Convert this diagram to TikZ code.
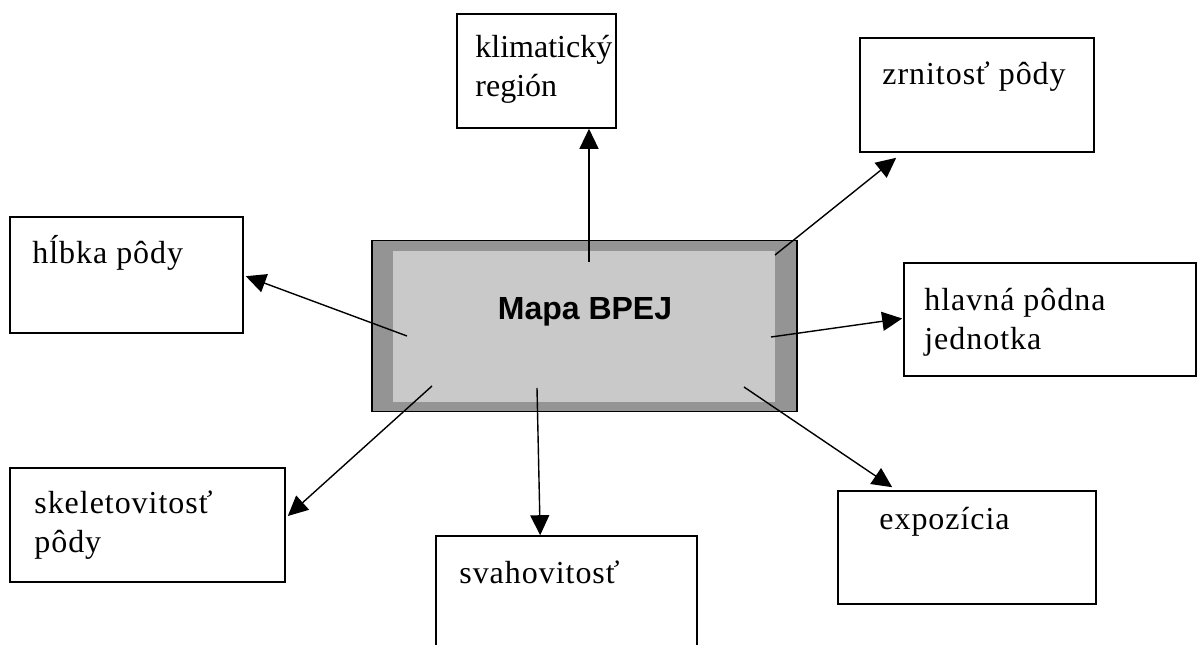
\documentclass[tikz,border=0pt]{standalone}
\usepackage{fontspec}
\setmainfont{Liberation Serif}[LetterSpace=3.0]
\newfontfamily\bpejfont{Liberation Sans}
\usetikzlibrary{calc,arrows.meta}

\begin{document}
\begin{tikzpicture}[
        x=1pt, y=-1pt,
        factor/.style={rectangle, draw, line width=1.6pt, fill=white, minimum height=114pt, inner sep=0pt},
        factortext/.style={anchor=north west, inner sep=0pt, align=left, font=\fontsize{32}{39}\selectfont},
        connection/.style={-{Triangle[length=20pt, width=19pt]}, line width=1.4pt}
    ]
    \useasboundingbox (0,0) rectangle (1197,645);

    % Central map
    \node[rectangle, draw, line width=1.6pt, fill=black!42, minimum width=425pt, minimum height=171pt] (bpej) at (584.5,326) {};
    \node[rectangle, fill=black!21, minimum width=382pt, minimum height=151pt] (bpejin) at (584,326.5) {};
    \node[anchor=base, font=\bpejfont\bfseries\fontsize{32}{38}\selectfont] (title) at (585,319) {Mapa BPEJ};

    % Factors
    \node[factor, minimum width=159pt] (klima) at (536.5,71) {};
    \node[factor, minimum width=234pt] (zrn) at (977,95) {};
    \node[factor, minimum width=233pt, minimum height=116pt] (hlbka) at (126.5,275) {};
    \node[factor, minimum width=292pt, minimum height=113pt] (hlavna) at (1050,319.5) {};
    \node[factor, minimum width=275pt] (skelet) at (147.5,525) {};
    \node[factor, minimum width=261pt] (svah) at (566.5,593) {};
    \node[factor, minimum width=258pt, minimum height=113pt] (expo) at (967,547.5) {};

    % Factor texts
    \node[factortext, font=\fontsize{32}{39}\selectfont\addfontfeature{LetterSpace=0}] (klimatext) at ($(klima.north west)+(19,22)$) {klimatický\\región};
    \node[factortext] (zrntext) at ($(zrn.north west)+(23,24)$) {zrnitosť pôdy};
    \node[factortext] (hlbkatext) at ($(hlbka.north west)+(23,19)$) {hĺbka pôdy};
    \node[factortext] (hlavnatext) at ($(hlavna.north west)+(21,26)$) {hlavná pôdna\\jednotka};
    \node[factortext] (skelettext) at ($(skelet.north west)+(25,23)$) {skeletovitosť\\pôdy};
    \node[factortext] (svahtext) at ($(svah.north west)+(24,25)$) {svahovitosť};
    \node[factortext] (expotext) at ($(expo.north west)+(42,17)$) {expozícia};

    % Connections: map to factors
    \coordinate (klima-s) at (589,262);
    \coordinate (klima-e) at (klima-s |- klima.south);
    \coordinate (zrn-s) at (775,255);
    \coordinate (zrn-e) at ($(zrn.south west)+(37,5)$);
    \coordinate (hlbka-s) at (407,336);
    \coordinate (hlbka-e) at ($(hlbka.north east)+(2,60)$);
    \coordinate (hlavna-s) at (771,337);
    \coordinate (hlavna-e) at ($(hlavna.west)+(-1,-1)$);
    \coordinate (skelet-s) at (432,386);
    \coordinate (skelet-e) at ($(skelet.east)+(2,-9)$);
    \coordinate (svah-s) at (537,388);
    \coordinate (svah-e) at ($(svah.north west)+(105,0)$);
    \coordinate (expo-s) at (744,387);
    \coordinate (expo-e) at ($(expo.north west)+(55,-3)$);
    \foreach \f in {klima,zrn,hlbka,hlavna,skelet,svah,expo} {
        \draw[connection] (\f-s) -- (\f-e);
    }

    \end{tikzpicture}
\end{document}
